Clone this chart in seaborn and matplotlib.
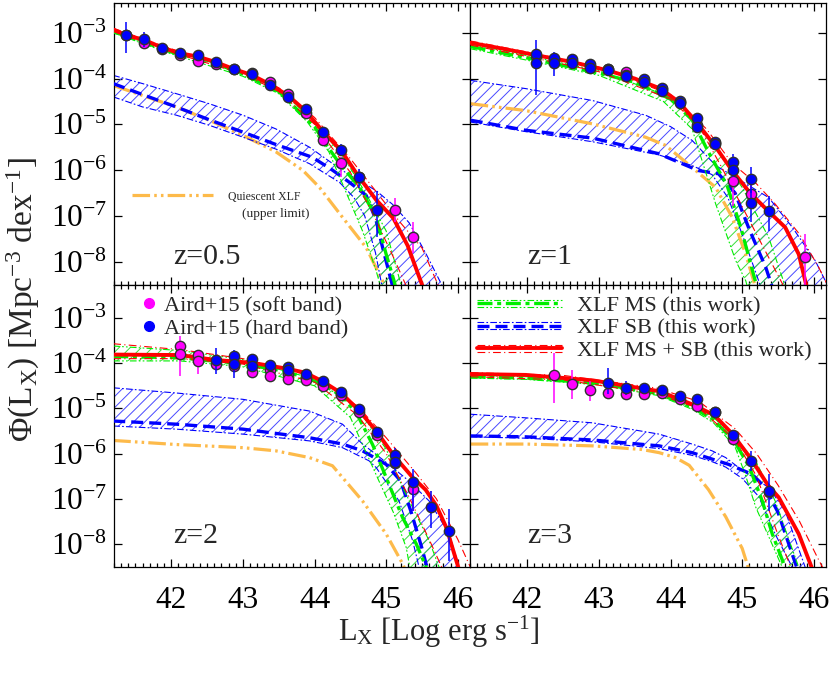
import numpy as np
import pandas as pd
import matplotlib
matplotlib.use("Agg")
import matplotlib.pyplot as plt
import seaborn as sns
from matplotlib.lines import Line2D
from matplotlib.legend_handler import HandlerBase
from matplotlib.ticker import MultipleLocator, NullLocator, FixedLocator

# ---------------------------------------------------------------- data
# log10 of Phi(Lx) [Mpc^-3 dex^-1]; L = log Lx

# ---- z = 0.5
RED_Z05_L = [41.19, 41.37, 41.63, 41.88, 42.13, 42.37, 42.62, 42.87, 43.12, 43.37, 43.63, 43.87, 44.12, 44.37, 44.62, 44.86, 45.10, 45.30, 45.50, 45.60]
RED_Z05_Y = [-2.93, -3.05, -3.16, -3.33, -3.45, -3.52, -3.64, -3.79, -3.92, -4.12, -4.37, -4.70, -5.16, -5.57, -6.15, -6.65, -7.05, -7.65, -8.50, -9.0]
REDU_Z05_L = [41.19, 42.0, 43.0, 43.5, 44.0, 44.5, 44.9, 45.2, 45.5, 45.75]
REDU_Z05_Y = [-2.90, -3.35, -3.85, -4.20, -4.85, -5.75, -6.55, -7.15, -7.70, -8.60]
REDL_Z05_L = [41.19, 42.0, 43.0, 43.5, 44.0, 44.5, 44.8, 45.1, 45.3]
REDL_Z05_Y = [-2.97, -3.42, -3.90, -4.28, -5.00, -6.05, -6.90, -7.90, -8.60]
GRN_Z05_L = [41.19, 42.0, 42.5, 43.0, 43.5, 44.0, 44.1, 44.35, 44.63, 44.86, 45.0, 45.11, 45.2]
GRN_Z05_Y = [-2.97, -3.42, -3.60, -3.90, -4.28, -5.05, -5.30, -5.86, -6.38, -7.03, -7.84, -8.42, -9.0]
GRNU_Z05_L = [41.19, 42.0, 43.0, 43.5, 44.0, 44.4, 44.72, 45.0, 45.18, 45.3]
GRNU_Z05_Y = [-2.95, -3.38, -3.86, -4.22, -4.95, -5.70, -6.52, -7.33, -8.35, -9.0]
GRNL_Z05_L = [41.19, 42.0, 43.0, 43.5, 43.9, 44.2, 44.45, 44.67, 44.86, 44.95]
GRNL_Z05_Y = [-3.00, -3.46, -3.95, -4.33, -4.95, -5.60, -6.52, -7.33, -8.20, -8.70]
SB_Z05_L = [41.19, 41.6, 42.07, 42.53, 43.0, 43.46, 43.97, 44.25, 44.49, 44.72, 44.86, 44.95, 45.1]
SB_Z05_Y = [-4.11, -4.35, -4.62, -4.90, -5.17, -5.44, -5.72, -6.00, -6.27, -6.55, -7.10, -7.69, -8.60]
SBU_Z05_L = [41.19, 41.60, 42.07, 42.53, 43.0, 43.46, 43.93, 44.39, 44.86, 45.09, 45.32, 45.56, 45.79]
SBU_Z05_Y = [-3.93, -4.11, -4.33, -4.55, -4.80, -5.10, -5.50, -6.01, -6.45, -6.75, -7.15, -7.84, -8.55]
SBL_Z05_L = [41.19, 41.6, 42.07, 42.53, 43.0, 43.46, 43.93, 44.35, 44.55, 44.7, 44.85, 44.95]
SBL_Z05_Y = [-4.40, -4.62, -4.80, -5.02, -5.28, -5.54, -5.86, -6.27, -6.60, -7.00, -7.80, -8.60]
QUI_Z05_L = [41.19, 41.60, 42.07, 42.53, 43.0, 43.46, 43.84, 44.07, 44.39, 44.72, 44.95, 45.05]
QUI_Z05_Y = [-4.15, -4.37, -4.62, -4.91, -5.24, -5.60, -6.01, -6.38, -7.03, -7.69, -8.42, -8.80]

HARD_Z05_L = [41.375, 41.625, 41.875, 42.125, 42.375, 42.625, 42.875, 43.125, 43.375, 43.625, 43.875, 44.125, 44.375, 44.625, 44.875]
HARD_Z05_Y = [-3.05, -3.145, -3.33, -3.45, -3.49, -3.64, -3.80, -3.91, -4.15, -4.40, -4.66, -5.16, -5.56, -6.14, -6.87]
HARD_Z05_ELO = [0.40, 0.17, 0.08, 0.06, 0.05, 0.04, 0.03, 0.03, 0.03, 0.04, 0.06, 0.09, 0.14, 0.24, 0.60]
HARD_Z05_EHI = [0.29, 0.16, 0.07, 0.05, 0.04, 0.04, 0.03, 0.03, 0.03, 0.04, 0.05, 0.08, 0.12, 0.17, 0.42]
SOFT_Z05_L = [41.375, 41.625, 41.875, 42.125, 42.375, 42.625, 42.875, 43.125, 43.375, 43.625, 43.875, 44.125, 44.375, 44.625, 45.125, 45.375]
SOFT_Z05_Y = [-3.05, -3.23, -3.36, -3.49, -3.62, -3.69, -3.80, -3.87, -4.07, -4.33, -4.75, -5.35, -5.84, -6.14, -6.87, -7.46]
SOFT_Z05_ELO = [0.05, 0.05, 0.04, 0.04, 0.03, 0.03, 0.03, 0.03, 0.03, 0.04, 0.06, 0.12, 0.32, 0.10, 0.27, 0.34]
SOFT_Z05_EHI = [0.05, 0.05, 0.04, 0.04, 0.03, 0.03, 0.03, 0.03, 0.03, 0.04, 0.06, 0.10, 0.12, 0.10, 0.27, 0.32]

# ---- z = 1
RED_Z1_L = [41.21, 41.6, 42.125, 42.6, 43.12, 43.5, 43.86, 44.115, 44.36, 44.61, 44.86, 45.11, 45.36, 45.6, 45.79, 45.88, 45.95]
RED_Z1_Y = [-3.22, -3.33, -3.49, -3.63, -3.82, -4.00, -4.22, -4.51, -4.95, -5.45, -6.01, -6.50, -6.89, -7.25, -7.84, -8.42, -8.90]
REDU_Z1_L = [41.21, 42.0, 43.0, 44.0, 44.5, 44.86, 45.2, 45.46, 45.8, 46.07, 46.25]
REDU_Z1_Y = [-3.18, -3.42, -3.75, -4.35, -5.10, -5.85, -6.30, -6.74, -7.40, -8.13, -8.70]
REDL_Z1_L = [41.21, 42.0, 43.0, 44.0, 44.4, 44.7, 45.0, 45.3, 45.6]
REDL_Z1_Y = [-3.27, -3.52, -3.85, -4.45, -5.05, -5.90, -6.80, -7.70, -8.60]
GRN_Z1_L = [41.21, 42.0, 43.0, 43.5, 44.0, 44.3, 44.53, 44.79, 44.98, 45.07, 45.17, 45.3]
GRN_Z1_Y = [-3.30, -3.55, -3.88, -4.08, -4.45, -4.90, -5.61, -6.34, -7.25, -7.77, -8.35, -9.0]
GRNU_Z1_L = [41.21, 42.0, 43.0, 44.0, 44.5, 45.0, 45.37, 45.56, 45.7]
GRNU_Z1_Y = [-3.25, -3.50, -3.83, -4.40, -5.20, -6.38, -7.47, -8.35, -9.0]
GRNL_Z1_L = [41.21, 42.0, 43.0, 43.9, 44.3, 44.63, 44.91, 45.05, 45.15]
GRNL_Z1_Y = [-3.35, -3.60, -3.93, -4.50, -5.10, -6.74, -7.98, -8.42, -9.0]
SB_Z1_L = [41.21, 41.98, 42.91, 43.83, 44.39, 44.67, 44.9, 45.1, 45.33, 45.45]
SB_Z1_Y = [-4.91, -5.13, -5.30, -5.64, -6.01, -6.08, -6.50, -7.30, -8.13, -8.70]
SBU_Z1_L = [41.21, 41.98, 42.91, 43.65, 44.0, 44.3, 44.63, 45.0, 45.37, 45.70, 46.02, 46.25]
SBU_Z1_Y = [-4.04, -4.22, -4.48, -4.80, -5.05, -5.35, -5.90, -6.25, -6.60, -7.25, -7.98, -8.70]
SBL_Z1_L = [41.21, 41.98, 42.91, 43.84, 44.30, 44.58, 44.8, 45.0, 45.23, 45.35]
SBL_Z1_Y = [-4.95, -5.16, -5.38, -5.67, -5.90, -6.10, -6.60, -7.40, -8.42, -9.0]
QUI_Z1_L = [41.21, 41.98, 42.91, 43.65, 43.93, 44.30, 44.63, 44.86, 45.05, 45.16, 45.25]
QUI_Z1_Y = [-4.55, -4.70, -4.99, -5.28, -5.46, -5.94, -6.38, -7.03, -7.84, -8.42, -9.0]

HARD_Z1_L = [42.125, 42.125, 42.375, 42.375, 42.625, 42.625, 42.875, 42.875, 43.125, 43.125, 43.375, 43.375, 43.625, 43.625, 43.875, 43.875, 44.125, 44.125, 44.375, 44.375, 44.625, 44.625, 44.875, 44.875, 45.125, 45.125, 45.375]
HARD_Z1_Y = [-3.47, -3.65, -3.56, -3.66, -3.58, -3.66, -3.69, -3.78, -3.80, -3.82, -3.93, -3.95, -4.02, -4.07, -4.20, -4.27, -4.49, -4.54, -4.86, -5.05, -5.39, -5.44, -5.83, -6.00, -6.19, -6.71, -6.90]
HARD_Z1_ELO = [0.90, 0.10, 0.39, 0.08, 0.10, 0.05, 0.05, 0.04, 0.03, 0.03, 0.03, 0.03, 0.03, 0.03, 0.03, 0.03, 0.04, 0.04, 0.06, 0.06, 0.08, 0.08, 0.33, 0.15, 0.30, 0.43, 0.43]
HARD_Z1_EHI = [0.31, 0.10, 0.14, 0.08, 0.10, 0.05, 0.05, 0.04, 0.03, 0.03, 0.03, 0.03, 0.03, 0.03, 0.03, 0.03, 0.04, 0.04, 0.06, 0.06, 0.08, 0.08, 0.19, 0.15, 0.25, 0.30, 0.34]
SOFT_Z1_L = [42.125, 42.375, 42.625, 42.875, 43.125, 43.375, 43.625, 43.875, 44.125, 44.375, 44.625, 44.875, 45.125, 45.875]
SOFT_Z1_Y = [-3.51, -3.60, -3.62, -3.73, -3.80, -3.855, -4.04, -4.22, -4.51, -5.02, -5.41, -6.23, -6.52, -7.89]
SOFT_Z1_ELO = [0.10, 0.06, 0.05, 0.04, 0.03, 0.03, 0.03, 0.03, 0.04, 0.06, 0.08, 0.55, 0.25, 0.61]
SOFT_Z1_EHI = [0.10, 0.06, 0.05, 0.04, 0.03, 0.03, 0.03, 0.03, 0.04, 0.06, 0.08, 0.18, 0.20, 0.49]

# ---- z = 2
RED_Z2_L = [41.19, 42.125, 42.62, 43.12, 43.61, 43.87, 44.11, 44.37, 44.63, 44.86, 45.11, 45.37, 45.55, 45.7, 45.84, 46.0, 46.1]
RED_Z2_Y = [-3.81, -3.82, -3.93, -3.99, -4.12, -4.21, -4.40, -4.66, -5.06, -5.50, -6.05, -6.53, -6.80, -7.15, -7.64, -8.48, -9.0]
REDU_Z2_L = [41.19, 42.125, 43.0, 44.0, 44.6, 45.0, 45.4, 45.7, 46.0, 46.2]
REDU_Z2_Y = [-3.57, -3.70, -3.90, -4.30, -4.95, -5.65, -6.40, -7.00, -7.90, -8.60]
REDL_Z2_L = [41.19, 42.125, 43.0, 44.0, 44.6, 45.0, 45.3, 45.6, 45.8]
REDL_Z2_Y = [-3.90, -3.90, -4.02, -4.42, -5.15, -6.00, -6.90, -7.90, -8.60]
GRN_Z2_L = [41.19, 42.125, 43.0, 43.6, 44.1, 44.4, 44.6, 44.81, 45.0, 45.23, 45.42, 45.56, 45.65]
GRN_Z2_Y = [-3.85, -3.88, -4.02, -4.18, -4.45, -4.75, -5.15, -5.80, -6.53, -7.42, -8.00, -8.52, -9.0]
GRNU_Z2_L = [41.19, 42.125, 43.0, 44.0, 44.6, 45.0, 45.23, 45.6, 45.74, 45.85]
GRNU_Z2_Y = [-3.62, -3.72, -3.92, -4.35, -5.00, -5.90, -6.75, -7.93, -8.52, -9.0]
GRNL_Z2_L = [41.19, 42.125, 43.0, 44.0, 44.5, 44.9, 45.1, 45.28, 45.33, 45.4]
GRNL_Z2_Y = [-3.95, -3.95, -4.08, -4.50, -5.20, -6.61, -7.30, -8.08, -8.52, -9.0]
SB_Z2_L = [41.19, 42.07, 43.0, 43.93, 44.39, 44.67, 45.0, 45.2, 45.35, 45.5, 45.6]
SB_Z2_Y = [-5.28, -5.35, -5.46, -5.65, -5.79, -5.94, -6.24, -6.60, -7.30, -8.10, -8.70]
SBU_Z2_L = [41.19, 42.07, 43.0, 43.93, 44.39, 44.67, 44.86, 45.09, 45.32, 45.6, 45.88, 46.02, 46.1]
SBU_Z2_Y = [-4.545, -4.66, -4.80, -5.06, -5.35, -5.79, -6.02, -6.31, -6.61, -7.05, -7.78, -8.52, -9.0]
SBL_Z2_L = [41.19, 42.07, 43.0, 43.93, 44.39, 44.76, 44.86, 45.18, 45.37, 45.46, 45.55]
SBL_Z2_Y = [-5.39, -5.46, -5.57, -5.72, -5.87, -6.16, -6.31, -7.05, -7.93, -8.52, -9.0]
QUI_Z2_L = [41.19, 42.07, 43.0, 43.46, 43.93, 44.25, 44.67, 45.0, 45.23, 45.35]
QUI_Z2_Y = [-5.71, -5.80, -5.87, -5.94, -6.09, -6.27, -7.05, -7.78, -8.44, -8.90]

HARD_Z2_L = [42.625, 42.875, 42.875, 43.125, 43.125, 43.375, 43.625, 43.625, 43.875, 44.125, 44.375, 44.625, 44.875, 45.125, 45.125, 45.375, 45.625, 45.875]
HARD_Z2_Y = [-3.92, -3.85, -4.01, -3.90, -4.07, -4.03, -4.09, -4.14, -4.24, -4.40, -4.63, -5.02, -5.52, -6.03, -6.18, -6.64, -7.18, -7.71]
HARD_Z2_ELO = [0.33, 0.47, 0.10, 0.08, 0.06, 0.05, 0.04, 0.04, 0.03, 0.03, 0.04, 0.05, 0.08, 0.35, 0.10, 0.63, 0.46, 0.66]
HARD_Z2_EHI = [0.26, 0.15, 0.10, 0.08, 0.06, 0.05, 0.04, 0.04, 0.03, 0.03, 0.04, 0.05, 0.08, 0.16, 0.10, 0.29, 0.35, 0.48]
SOFT_Z2_L = [42.125, 42.125, 42.375, 42.375, 42.625, 42.875, 43.125, 43.375, 43.375, 43.625, 43.625, 43.875, 43.875, 44.125, 44.125, 44.375, 44.375, 44.625, 44.875, 44.875, 45.125, 45.375]
SOFT_Z2_Y = [-3.625, -3.79, -3.82, -3.96, -4.01, -4.07, -4.19, -4.16, -4.29, -4.25, -4.35, -4.32, -4.375, -4.47, -4.51, -4.68, -4.71, -5.08, -5.57, -5.60, -6.22, -6.79]
SOFT_Z2_ELO = [0.665, 0.10, 0.43, 0.08, 0.06, 0.05, 0.04, 0.04, 0.04, 0.03, 0.03, 0.03, 0.03, 0.03, 0.03, 0.04, 0.04, 0.05, 0.08, 0.08, 0.12, 0.48]
SOFT_Z2_EHI = [0.225, 0.10, 0.08, 0.08, 0.06, 0.05, 0.04, 0.04, 0.04, 0.03, 0.03, 0.03, 0.03, 0.03, 0.03, 0.04, 0.04, 0.05, 0.08, 0.08, 0.12, 0.19]

# ---- z = 3
RED_Z3_L = [41.21, 41.98, 42.91, 43.84, 44.30, 44.61, 44.86, 45.12, 45.36, 45.51, 45.79, 45.97, 46.1]
RED_Z3_Y = [-4.24, -4.26, -4.38, -4.62, -4.91, -5.15, -5.56, -6.11, -6.70, -6.97, -7.78, -8.52, -9.0]
REDU_Z3_L = [41.21, 42.5, 43.8, 44.4, 44.9, 45.2, 45.5, 45.8, 46.05, 46.25]
REDU_Z3_Y = [-4.21, -4.27, -4.55, -4.85, -5.45, -6.00, -6.70, -7.50, -8.30, -8.90]
REDL_Z3_L = [41.21, 42.5, 43.8, 44.4, 44.9, 45.2, 45.5, 45.7]
REDL_Z3_Y = [-4.30, -4.37, -4.68, -5.00, -5.70, -6.50, -7.80, -8.60]
GRN_Z3_L = [41.21, 42.0, 43.0, 43.84, 44.3, 44.6, 44.9, 45.1, 45.28, 45.42, 45.60, 45.7]
GRN_Z3_Y = [-4.30, -4.33, -4.45, -4.68, -4.97, -5.25, -5.75, -6.30, -7.05, -7.78, -8.52, -9.0]
GRNU_Z3_L = [41.21, 42.0, 43.0, 43.84, 44.3, 44.6, 44.9, 45.2, 45.46, 45.79, 45.9]
GRNU_Z3_Y = [-4.27, -4.30, -4.42, -4.64, -4.93, -5.20, -5.65, -6.20, -7.05, -8.52, -9.0]
GRNL_Z3_L = [41.21, 42.0, 43.0, 43.84, 44.3, 44.6, 44.9, 45.05, 45.19, 45.56, 45.65]
GRNL_Z3_Y = [-4.33, -4.36, -4.48, -4.72, -5.02, -5.32, -5.85, -6.50, -7.19, -8.52, -9.0]
SB_Z3_L = [41.21, 41.98, 42.91, 43.84, 44.30, 44.81, 45.14, 45.32, 45.5, 45.65, 45.8]
SB_Z3_Y = [-5.61, -5.63, -5.70, -5.83, -5.98, -6.24, -6.46, -6.75, -7.30, -8.00, -8.70]
SBU_Z3_L = [41.21, 41.98, 42.91, 43.84, 44.30, 44.58, 44.77, 44.95, 45.09, 45.23, 45.37, 45.6, 45.88, 46.0]
SBU_Z3_Y = [-5.13, -5.21, -5.32, -5.57, -5.79, -5.94, -6.09, -6.31, -6.46, -6.61, -6.75, -7.27, -8.52, -9.0]
SBL_Z3_L = [41.21, 41.98, 42.91, 43.84, 44.30, 44.58, 44.77, 45.0, 45.23, 45.46, 45.70, 45.8]
SBL_Z3_Y = [-5.63, -5.66, -5.74, -5.89, -6.04, -6.18, -6.30, -6.55, -6.95, -7.78, -8.52, -9.0]
QUI_Z3_L = [41.21, 41.98, 42.91, 43.60, 43.84, 44.07, 44.26, 44.53, 44.77, 45.0, 45.1, 45.18]
QUI_Z3_Y = [-5.79, -5.79, -5.83, -5.91, -5.98, -6.09, -6.26, -6.80, -7.40, -8.10, -8.60, -9.0]

HARD_Z3_L = [43.125, 43.375, 43.625, 43.875, 44.125, 44.375, 44.625, 44.875, 45.125, 45.375]
HARD_Z3_Y = [-4.43, -4.56, -4.545, -4.60, -4.73, -4.80, -5.08, -5.59, -6.16, -6.83]
HARD_Z3_ELO = [0.26, 0.15, 0.08, 0.05, 0.04, 0.04, 0.05, 0.08, 0.22, 0.44]
HARD_Z3_EHI = [0.33, 0.16, 0.08, 0.05, 0.04, 0.04, 0.05, 0.08, 0.22, 0.37]
SOFT_Z3_L = [42.375, 42.625, 42.875, 43.125, 43.375, 43.625, 43.875, 44.125, 44.375, 44.625, 44.875, 45.375]
SOFT_Z3_Y = [-4.27, -4.45, -4.60, -4.67, -4.69, -4.69, -4.66, -4.80, -4.95, -5.08, -5.68, -6.86]
SOFT_Z3_ELO = [0.61, 0.35, 0.24, 0.05, 0.05, 0.04, 0.04, 0.04, 0.04, 0.05, 0.08, 0.15]
SOFT_Z3_EHI = [0.50, 0.31, 0.20, 0.05, 0.05, 0.04, 0.04, 0.04, 0.04, 0.05, 0.08, 0.15]

PANEL_LABELS = ["z=0.5", "z=1", "z=2", "z=3"]
X_TICKS = [42, 43, 44, 45, 46]
Y_TICKS = [1e-8, 1e-7, 1e-6, 1e-5, 1e-4, 1e-3]
LEG_AIRD = ["Aird+15 (soft band)", "Aird+15 (hard band)"]
LEG_XLF = ["XLF MS (this work)", "XLF SB (this work)", "XLF MS + SB (this work)"]
LEG_QUI = ["Quiescent XLF", "(upper limit)"]

# ---------------------------------------------------------------- style
sns.set_theme(style="ticks")
plt.rcParams.update({
    "font.family": ["Liberation Serif", "DejaVu Serif"],
    "mathtext.fontset": "custom",
    "mathtext.rm": "Liberation Serif",
    "mathtext.it": "Liberation Serif:italic",
    "mathtext.bf": "Liberation Serif:bold",
    "mathtext.default": "regular",
    "hatch.linewidth": 0.7,
    "axes.linewidth": 0.9,
    "axes.edgecolor": "black",
})

RED = "#FF0000"
GREEN = "#00EE00"
BLUE = "#0000FF"
ORANGE = "#FDBA4A"
MAGENTA = "#FF00FF"
BLUE_HATCH = "#4848FF"
GREEN_HATCH = "#3ADD3A"

LS_RED_EDGE = (0, (7, 3, 1, 3))
LS_GRN = (0, (4.5, 1.4, 1.2, 1.4))
LS_GRN_EDGE = (0, (6, 2, 1.5, 2, 1.5, 2))
LS_BLU = (0, (3.6, 1.8))
LS_BLU_EDGE = (0, (6, 2, 1.5, 2))
LS_QUI = (0, (5.5, 1.3, 0.8, 1.3, 0.8, 1.3))

PANELS = [
    dict(red=(RED_Z05_L, RED_Z05_Y), redu=(REDU_Z05_L, REDU_Z05_Y), redl=(REDL_Z05_L, REDL_Z05_Y),
         grn=(GRN_Z05_L, GRN_Z05_Y), grnu=(GRNU_Z05_L, GRNU_Z05_Y), grnl=(GRNL_Z05_L, GRNL_Z05_Y),
         sb=(SB_Z05_L, SB_Z05_Y), sbu=(SBU_Z05_L, SBU_Z05_Y), sbl=(SBL_Z05_L, SBL_Z05_Y),
         qui=(QUI_Z05_L, QUI_Z05_Y),
         soft=(SOFT_Z05_L, SOFT_Z05_Y, SOFT_Z05_ELO, SOFT_Z05_EHI),
         hard=(HARD_Z05_L, HARD_Z05_Y, HARD_Z05_ELO, HARD_Z05_EHI)),
    dict(red=(RED_Z1_L, RED_Z1_Y), redu=(REDU_Z1_L, REDU_Z1_Y), redl=(REDL_Z1_L, REDL_Z1_Y),
         grn=(GRN_Z1_L, GRN_Z1_Y), grnu=(GRNU_Z1_L, GRNU_Z1_Y), grnl=(GRNL_Z1_L, GRNL_Z1_Y),
         sb=(SB_Z1_L, SB_Z1_Y), sbu=(SBU_Z1_L, SBU_Z1_Y), sbl=(SBL_Z1_L, SBL_Z1_Y),
         qui=(QUI_Z1_L, QUI_Z1_Y),
         soft=(SOFT_Z1_L, SOFT_Z1_Y, SOFT_Z1_ELO, SOFT_Z1_EHI),
         hard=(HARD_Z1_L, HARD_Z1_Y, HARD_Z1_ELO, HARD_Z1_EHI)),
    dict(red=(RED_Z2_L, RED_Z2_Y), redu=(REDU_Z2_L, REDU_Z2_Y), redl=(REDL_Z2_L, REDL_Z2_Y),
         grn=(GRN_Z2_L, GRN_Z2_Y), grnu=(GRNU_Z2_L, GRNU_Z2_Y), grnl=(GRNL_Z2_L, GRNL_Z2_Y),
         sb=(SB_Z2_L, SB_Z2_Y), sbu=(SBU_Z2_L, SBU_Z2_Y), sbl=(SBL_Z2_L, SBL_Z2_Y),
         qui=(QUI_Z2_L, QUI_Z2_Y),
         soft=(SOFT_Z2_L, SOFT_Z2_Y, SOFT_Z2_ELO, SOFT_Z2_EHI),
         hard=(HARD_Z2_L, HARD_Z2_Y, HARD_Z2_ELO, HARD_Z2_EHI)),
    dict(red=(RED_Z3_L, RED_Z3_Y), redu=(REDU_Z3_L, REDU_Z3_Y), redl=(REDL_Z3_L, REDL_Z3_Y),
         grn=(GRN_Z3_L, GRN_Z3_Y), grnu=(GRNU_Z3_L, GRNU_Z3_Y), grnl=(GRNL_Z3_L, GRNL_Z3_Y),
         sb=(SB_Z3_L, SB_Z3_Y), sbu=(SBU_Z3_L, SBU_Z3_Y), sbl=(SBL_Z3_L, SBL_Z3_Y),
         qui=(QUI_Z3_L, QUI_Z3_Y),
         soft=(SOFT_Z3_L, SOFT_Z3_Y, SOFT_Z3_ELO, SOFT_Z3_EHI),
         hard=(HARD_Z3_L, HARD_Z3_Y, HARD_Z3_ELO, HARD_Z3_EHI)),
]


def curve(ax, pair, color, lw, ls, z):
    L, Y = pair
    df = pd.DataFrame({"L": L, "phi": 10.0 ** np.asarray(Y, float)})
    sns.lineplot(data=df, x="L", y="phi", ax=ax, color=color, linewidth=lw,
                 linestyle=ls, estimator=None, errorbar=None, sort=False,
                 legend=False, zorder=z)


def band(ax, upper, lower, hcolor):
    Lu, Yu = upper
    Ll, Yl = lower
    xs = np.r_[np.asarray(Lu, float), np.asarray(Ll, float)[::-1]]
    ys = 10.0 ** np.r_[np.asarray(Yu, float), np.asarray(Yl, float)[::-1]]
    ax.fill(xs, ys, facecolor="none", edgecolor=hcolor, hatch="///", linewidth=0, zorder=1)


def points(ax, data, color, z):
    L, Y, elo, ehi = (np.asarray(v, float) for v in data)
    phi = 10.0 ** Y
    yerr = [phi - 10.0 ** (Y - elo), 10.0 ** (Y + ehi) - phi]
    ax.errorbar(L, phi, yerr=yerr, fmt="none", ecolor=color, elinewidth=1.1,
                capsize=0, zorder=z)
    sns.scatterplot(x=L, y=phi, ax=ax, color=color, s=55, edgecolor="#303030",
                    linewidth=1.0, legend=False, zorder=z + 0.5)


class BandKey:
    def __init__(self, color, center_ls, center_lw, edge_ls):
        self.color = color
        self.center_ls = center_ls
        self.center_lw = center_lw
        self.edge_ls = edge_ls


class BandHandler(HandlerBase):
    def create_artists(self, legend, orig_handle, xdescent, ydescent, width,
                       height, fontsize, trans):
        yc = height / 2.0 - ydescent
        x0, x1 = -xdescent, width - xdescent
        arts = []
        for dy, ls, lw in [(2.6, orig_handle.edge_ls, 0.8),
                           (0.0, orig_handle.center_ls, orig_handle.center_lw),
                           (-2.6, orig_handle.edge_ls, 0.8)]:
            arts.append(Line2D([x0, x1], [yc + dy, yc + dy], color=orig_handle.color,
                               linestyle=ls, linewidth=lw, transform=trans))
        return arts


# ---------------------------------------------------------------- figure
fig = plt.figure(figsize=(8.30, 6.74), dpi=100)
gs = fig.add_gridspec(2, 2, left=0.1373, right=0.9952, top=0.9955, bottom=0.1588,
                      wspace=0, hspace=0)
axes = [fig.add_subplot(gs[i // 2, i % 2]) for i in range(4)]

for i, (ax, P) in enumerate(zip(axes, PANELS)):
    band(ax, P["sbu"], P["sbl"], BLUE_HATCH)
    band(ax, P["grnu"], P["grnl"], GREEN_HATCH)
    curve(ax, P["qui"], ORANGE, 2.3, LS_QUI, 2)
    curve(ax, P["sbu"], BLUE, 0.8, LS_BLU_EDGE, 2.5)
    curve(ax, P["sbl"], BLUE, 0.8, LS_BLU_EDGE, 2.5)
    curve(ax, P["sb"], BLUE, 2.4, LS_BLU, 3)
    curve(ax, P["grnu"], GREEN, 0.8, LS_GRN_EDGE, 3.2)
    curve(ax, P["grnl"], GREEN, 0.8, LS_GRN_EDGE, 3.2)
    curve(ax, P["grn"], GREEN, 2.4, LS_GRN, 3.4)
    curve(ax, P["redu"], RED, 0.8, LS_RED_EDGE, 3.6)
    curve(ax, P["redl"], RED, 0.8, LS_RED_EDGE, 3.6)
    curve(ax, P["red"], RED, 2.8, "-", 4)
    points(ax, P["soft"], MAGENTA, 5)
    points(ax, P["hard"], BLUE, 6)

    ax.set_yscale("log")
    ax.set_xlim(41.2, 46.17)
    if i < 2:
        ax.set_ylim(10 ** -8.51, 10 ** -2.35)
    else:
        ax.set_ylim(10 ** -8.51, 10 ** -2.27)
    ax.xaxis.set_major_locator(FixedLocator(X_TICKS))
    ax.xaxis.set_minor_locator(MultipleLocator(0.1))
    ax.yaxis.set_major_locator(FixedLocator(Y_TICKS))
    ax.yaxis.set_minor_locator(NullLocator())
    ax.tick_params(which="both", direction="in", top=True, right=True,
                   colors="black", width=0.9)
    ax.tick_params(which="major", length=6)
    ax.tick_params(which="minor", length=2.6)
    ax.tick_params(axis="y", labelsize=22.5, pad=5)
    ax.tick_params(axis="x", labelsize=22.5, pad=13.5)
    ax.set_xlabel("")
    ax.set_ylabel("")
    if i < 2:
        ax.tick_params(axis="x", labelbottom=False)
    if i % 2 == 1:
        ax.tick_params(axis="y", labelleft=False)
    for sp in ax.spines.values():
        sp.set_visible(True)
        sp.set_color("black")
        sp.set_linewidth(0.9)

    xpos = 0.165 if i % 2 == 0 else 0.16
    ypos = 0.075 if i < 2 else 0.084
    ax.text(xpos, ypos, PANEL_LABELS[i], transform=ax.transAxes, fontsize=21.5,
            ha="left", va="baseline", zorder=10)

# quiescent legend (top-left)
qh = Line2D([], [], color=ORANGE, linewidth=2.3, linestyle=LS_QUI)
axes[0].legend(handles=[qh], labels=[LEG_QUI[0]], loc="upper left",
               bbox_to_anchor=(0.05, 0.335), frameon=False, fontsize=8.5,
               handlelength=6.9, handletextpad=1.25, borderpad=0, borderaxespad=0)
axes[0].text(0.361, 0.253, LEG_QUI[1], transform=axes[0].transAxes,
             fontsize=9.5, ha="left", va="center")

# Aird legend (bottom-left)
h_soft = Line2D([], [], marker="o", linestyle="none", color=MAGENTA, markersize=7)
h_hard = Line2D([], [], marker="o", linestyle="none", color=BLUE, markersize=7)
axes[2].legend(handles=[h_soft, h_hard], labels=LEG_AIRD, loc="upper left",
               bbox_to_anchor=(0.079, 0.963), frameon=False, fontsize=16,
               handlelength=0.6, handletextpad=0.4, labelspacing=0.12,
               borderpad=0, borderaxespad=0)

# XLF legend (bottom-right)
keys = [BandKey(GREEN, LS_GRN, 2.4, LS_GRN_EDGE),
        BandKey(BLUE, LS_BLU, 2.4, LS_BLU_EDGE),
        BandKey(RED, "-", 2.8, LS_RED_EDGE)]
axes[3].legend(handles=keys, labels=LEG_XLF, handler_map={BandKey: BandHandler()},
               loc="upper left", bbox_to_anchor=(0.02, 0.963), frameon=False,
               fontsize=16, handlelength=3.8, handletextpad=0.68,
               labelspacing=0.09, borderpad=0, borderaxespad=0)

fig.text(0.5285, 0.0896, "L$_X$ [Log erg s$^{-1}$]", fontsize=22, ha="center", va="top")
fig.text(0.028, 0.555, "Φ(L$_X$) [Mpc$^{-3}$ dex$^{-1}$]", fontsize=24,
         ha="center", va="center", rotation=90)

fig.savefig("out.png", dpi=100)
